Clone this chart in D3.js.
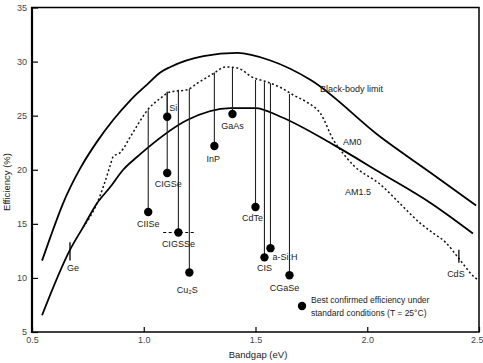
<!DOCTYPE html>
<html>
<head>
<meta charset="utf-8">
<script src="https://cdn.jsdelivr.net/npm/d3@7"></script>
<style>
  body { margin: 0; background: #fff; }
  svg { font-family: "Liberation Sans", Arial, sans-serif; }
</style>
</head>
<body>
<svg id="chart" width="483" height="363"></svg>
<script>
// limit curves, [bandgap eV, efficiency %]
var blackBody = [[0.545, 11.6], [0.581, 13.7], [0.639, 16.9], [0.715, 20.1], [0.791, 22.6],
  [0.863, 24.6], [0.939, 26.4], [1.016, 27.9], [1.074, 29.0], [1.119, 29.5],
  [1.267, 30.5], [1.419, 30.8], [1.567, 30.1], [1.747, 28.3], [2.061, 23.0],
  [2.285, 19.7], [2.487, 16.7]];
var am0 = [[0.545, 6.55], [0.670, 12.6], [0.729, 14.7], [0.791, 16.9], [0.850, 18.4],
  [0.908, 20.0], [0.971, 21.2], [1.016, 22.0], [1.195, 24.6], [1.388, 25.7],
  [1.5, 25.7], [1.612, 24.9], [1.850, 22.3], [2.061, 19.7], [2.285, 16.9], [2.473, 14.1]];
var am15 = [[0.729, 14.7], [0.791, 16.9], [0.822, 18.6], [0.850, 20.4], [0.863, 21.2],
  [0.895, 21.6], [0.939, 23.0], [0.980, 24.4], [1.016, 25.5], [1.074, 26.6],
  [1.119, 27.2], [1.195, 27.4], [1.240, 28.0], [1.312, 28.9], [1.366, 29.5],
  [1.419, 29.4], [1.491, 28.5], [1.554, 28.1], [1.612, 27.6], [1.670, 26.9],
  [1.733, 26.2], [1.791, 25.2], [1.850, 22.7], [1.881, 21.8], [1.939, 20.4],
  [2.061, 18.6], [2.150, 16.8], [2.240, 15.0], [2.298, 14.1], [2.350, 13.3],
  [2.406, 11.9], [2.478, 10.1], [2.496, 9.8]];

// best cells
var cellNames = ["CIISe", "Si", "CIGSe", "CIGSSe", "Cu\u2082S", "InP", "GaAs", "CdTe", "CIS", "a-Si:H", "CGaSe"];
var cellGap   = [1.02, 1.105, 1.105, 1.155, 1.204, 1.316, 1.397, 1.50, 1.54, 1.567, 1.652];
var cellEff   = [16.1, 24.9, 19.7, 14.2, 10.5, 22.2, 25.15, 16.55, 11.9, 12.75, 10.25];
var cellTop   = [25.5, 27.2, 27.2, 27.4, 27.5, 29.0, 29.5, 28.3, 28.1, 28.0, 27.0];

// markers without a dot
var tickNames = ["Ge", "CdS"];
var tickGap   = [0.67, 2.41];
var tickLow   = [11.6, 11.4];
var tickHigh  = [13.3, 12.6];
var cigsseRange = [1.087, 1.231];

var xTicks = [0.5, 1.0, 1.5, 2.0, 2.5];
var yTicks = [5, 10, 15, 20, 25, 30, 35];

var svg = d3.select("#chart");
var x = d3.scaleLinear().domain([0.5, 2.5]).range([32, 479]);
var y = d3.scaleLinear().domain([5, 35]).range([332, 7.5]);

var line = d3.line()
  .x(function(d) { return x(d[0]); })
  .y(function(d) { return y(d[1]); })
  .curve(d3.curveMonotoneX);

svg.append("path").attr("d", line(blackBody))
  .attr("fill", "none").attr("stroke", "#000").attr("stroke-width", 1.8);
svg.append("path").attr("d", line(am0))
  .attr("fill", "none").attr("stroke", "#000").attr("stroke-width", 1.8);
svg.append("path").attr("d", line(am15))
  .attr("fill", "none").attr("stroke", "#111").attr("stroke-width", 1.5)
  .attr("stroke-dasharray", "2,2.4");

// vertical drop lines
svg.append("g").selectAll("line")
  .data(cellNames)
  .enter()
  .append("line")
    .attr("x1", function(d, i) { return x(cellGap[i]); })
    .attr("x2", function(d, i) { return x(cellGap[i]); })
    .attr("y1", function(d, i) { return y(cellTop[i]); })
    .attr("y2", function(d, i) { return y(cellEff[i]); })
    .attr("stroke", "#222").attr("stroke-width", 1.1);

svg.append("line")
  .attr("x1", x(cigsseRange[0])).attr("x2", x(cigsseRange[1]))
  .attr("y1", y(cellEff[3])).attr("y2", y(cellEff[3]))
  .attr("stroke", "#000").attr("stroke-width", 1)
  .attr("stroke-dasharray", "3,2.5");

svg.append("g").selectAll("line")
  .data(tickNames)
  .enter()
  .append("line")
    .attr("x1", function(d, i) { return x(tickGap[i]); })
    .attr("x2", function(d, i) { return x(tickGap[i]); })
    .attr("y1", function(d, i) { return y(tickHigh[i]); })
    .attr("y2", function(d, i) { return y(tickLow[i]); })
    .attr("stroke", "#000").attr("stroke-width", 1.3);

svg.append("g").selectAll("circle")
  .data(cellNames)
  .enter()
  .append("circle")
    .attr("cx", function(d, i) { return x(cellGap[i]); })
    .attr("cy", function(d, i) { return y(cellEff[i]); })
    .attr("r", 4.2)
    .attr("fill", "#000");

// label placement: [dx, dy baseline, anchor]
var labelPos = {
  "CIISe": [0, 15, "middle"], "Si": [2, -6, "start"], "CIGSe": [1, 14, "middle"],
  "CIGSSe": [0, 15, "middle"], "Cu\u2082S": [-2, 20, "middle"], "InP": [-1, 16, "middle"],
  "GaAs": [0, 15, "middle"], "CdTe": [-3, 14, "middle"], "CIS": [0, 14, "middle"],
  "a-Si:H": [2, 12, "start"], "CGaSe": [-5, 16, "middle"]
};

svg.append("g").selectAll("text")
  .data(cellNames)
  .enter()
  .append("text")
    .attr("x", function(d, i) { return x(cellGap[i]) + labelPos[d][0]; })
    .attr("y", function(d, i) { return y(cellEff[i]) + labelPos[d][1]; })
    .attr("text-anchor", function(d) { return labelPos[d][2]; })
    .attr("font-size", 9).attr("fill", "#222")
    .text(function(d) { return d; });

svg.append("text").attr("x", x(tickGap[0]) - 3).attr("y", y(tickLow[0]) + 10)
  .attr("font-size", 9).attr("fill", "#222").text("Ge");
svg.append("text").attr("x", x(tickGap[1]) - 3).attr("y", y(tickLow[1]) + 14)
  .attr("font-size", 9).attr("fill", "#222").attr("text-anchor", "middle").text("CdS");

// curve names
svg.append("text").attr("x", 320).attr("y", 92).attr("font-size", 9).attr("fill", "#222").text("Black-body limit");
svg.append("text").attr("x", 343).attr("y", 145).attr("font-size", 9).attr("fill", "#222").text("AM0");
svg.append("text").attr("x", 345).attr("y", 195).attr("font-size", 9).attr("fill", "#222").text("AM1.5");

// legend
svg.append("circle").attr("cx", 302).attr("cy", 306).attr("r", 4.2).attr("fill", "#000");
svg.append("text").attr("x", 311).attr("y", 303).attr("font-size", 8.5).attr("fill", "#222")
  .text("Best confirmed efficiency under");
svg.append("text").attr("x", 311).attr("y", 316).attr("font-size", 8.5).attr("fill", "#222")
  .text("standard conditions (T = 25\u00B0C)");

// axes
var yAxis = d3.axisLeft(y).tickValues(yTicks).tickSizeInner(-6).tickSizeOuter(0).tickPadding(5);
var xAxis = d3.axisBottom(x).tickValues(xTicks).tickFormat(d3.format(".1f"))
  .tickSizeInner(-5).tickSizeOuter(0).tickPadding(5);

var gy = svg.append("g").attr("transform", "translate(32,0)").call(yAxis);
var gx = svg.append("g").attr("transform", "translate(0,332)").call(xAxis);
gy.select(".domain").remove();
gx.select(".domain").remove();
svg.selectAll(".tick text").attr("font-size", 9).attr("fill", "#444")
  .attr("font-family", "'Liberation Sans', Arial, sans-serif");
svg.selectAll(".tick line").attr("stroke", "#000").attr("stroke-width", 1.2);
// last x label sits against the right edge
gx.selectAll(".tick text").filter(function(d) { return d === 2.5; })
  .attr("text-anchor", "end").attr("dx", 4);

// frame
svg.append("rect").attr("x", 32).attr("y", 7.5).attr("width", 447).attr("height", 324.5)
  .attr("fill", "none").attr("stroke", "#000").attr("stroke-width", 1.5);
svg.append("line").attr("x1", 32).attr("x2", 32).attr("y1", 7).attr("y2", 333)
  .attr("stroke", "#000").attr("stroke-width", 2.2);

svg.append("text").attr("x", 258).attr("y", 358).attr("text-anchor", "middle")
  .attr("font-size", 9.5).attr("fill", "#222").text("Bandgap (eV)");
svg.append("text").attr("transform", "translate(10,182) rotate(-90)").attr("text-anchor", "middle")
  .attr("font-size", 9.5).attr("fill", "#222").text("Efficiency (%)");
</script>
</body>
</html>
